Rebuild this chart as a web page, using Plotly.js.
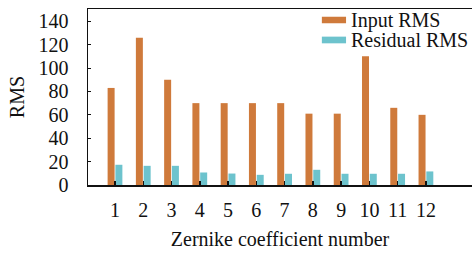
<!DOCTYPE html>
<html>
<head>
<meta charset="utf-8">
<script src="https://cdn.plot.ly/plotly-3.0.1.min.js"></script>
<style>html,body{margin:0;padding:0;background:#fff;}#chart{width:472px;height:253px;}</style>
</head>
<body>
<div id="chart"></div>
<script>
const categories = [1, 2, 3, 4, 5, 6, 7, 8, 9, 10, 11, 12];
const inputRMS = [83, 126, 90, 70, 70, 70, 70, 61, 61, 110, 66, 60];
const residualRMS = [17.3, 16.4, 16.4, 10.7, 9.8, 8.7, 9.6, 13, 9.6, 9.6, 9.6, 11.6];
const seriesNames = ['Input RMS', 'Residual RMS'];
const colors = ['#CF7A3B', '#6DC3CD'];
const yTicks = [0, 20, 40, 60, 80, 100, 120, 140];

const font = {family: 'Liberation Serif, Times New Roman, serif', size: 20, color: '#111'};

const traces = [
  {type: 'bar', x: categories, y: inputRMS, name: seriesNames[0], marker: {color: colors[0]}},
  {type: 'bar', x: categories, y: residualRMS, name: seriesNames[1], marker: {color: colors[1]}}
];

// hand-made legend (swatch + label) in paper coordinates
const legendRows = [
  {sy0: 0.919, sy1: 0.956, ty: 0.9375},
  {sy0: 0.805, sy1: 0.843, ty: 0.824}
];
const shapes = legendRows.map((r, i) => ({
  type: 'rect', xref: 'paper', yref: 'paper', x0: 0.609, x1: 0.672, y0: r.sy0, y1: r.sy1,
  fillcolor: colors[i], line: {width: 0}
}));
const annotations = legendRows.map((r, i) => ({
  xref: 'paper', yref: 'paper', x: 0.68, y: r.ty, xanchor: 'left', yanchor: 'middle',
  text: seriesNames[i], showarrow: false, font: font
}));

const layout = {
  width: 472, height: 253,
  margin: {l: 88, r: 0, t: 9, b: 68},
  paper_bgcolor: '#fff', plot_bgcolor: '#fff',
  font: font,
  barmode: 'group', bargap: 0.45, bargroupgap: 0.1,
  showlegend: false,
  shapes: shapes,
  annotations: annotations,
  xaxis: {
    range: [0.045, 13.63], tickvals: categories, ticktext: categories.map(String),
    showline: true, linecolor: '#111', linewidth: 1.5, mirror: true,
    ticks: 'inside', ticklen: 4, tickcolor: '#111', tickwidth: 1.5,
    showgrid: false, zeroline: false, ticklabelstandoff: 6,
    tickfont: font,
    title: {text: 'Zernike coefficient number', font: font, standoff: 12}
  },
  yaxis: {
    range: [0, 150.5], tickvals: yTicks,
    showline: true, linecolor: '#111', linewidth: 1.5,
    ticks: 'inside', ticklen: 3, tickcolor: '#111', tickwidth: 1,
    showgrid: false, zeroline: false, ticklabelstandoff: 14,
    tickfont: font,
    title: {text: 'RMS', font: font, standoff: 8}
  }
};

Plotly.newPlot('chart', traces, layout, {displayModeBar: false, staticPlot: true});
</script>
</body>
</html>
